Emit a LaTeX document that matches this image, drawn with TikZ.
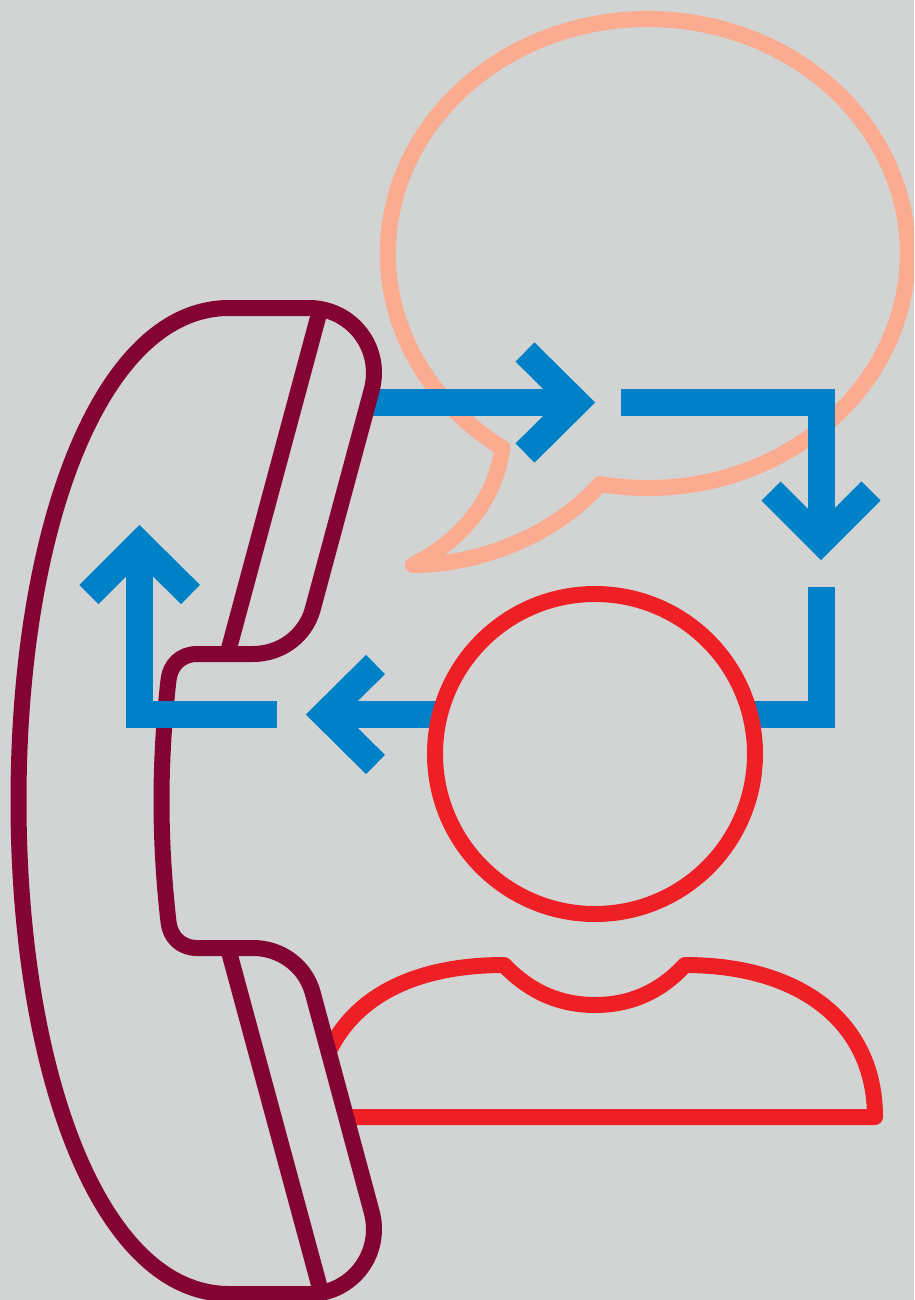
\documentclass[tikz,border=0pt]{standalone}
\definecolor{bgc}{HTML}{D2D4D3}
\definecolor{maroonc}{HTML}{830433}
\definecolor{bluec}{HTML}{0080C6}
\definecolor{redc}{HTML}{EF1F26}
\definecolor{salmonc}{HTML}{FBAB8F}
\tikzset{
  bubble/.style={draw=salmonc,line width=16pt,line join=round},
  person/.style={draw=redc,line width=16pt,line join=round},
  handset/.style={draw=maroonc,line width=16pt,line join=round},
  flow/.style={draw=bluec,line width=27pt,line join=miter,miter limit=10,line cap=butt}
}
\begin{document}
\begin{tikzpicture}[x=1pt,y=-1pt]
\useasboundingbox (0,0) rectangle (914,1300);
\clip (0,0) rectangle (914,1300);
\fill[bgc] (0,0) rectangle (914,1300);
% speech bubble
\draw[bubble] (600,484) arc (-100.6:236:260pt and 234.5pt)
  .. controls (495,500) and (462,540) .. (413,565)
  .. controls (480,565) and (555,535) .. (600,484) -- cycle;
% arrows beneath the handset and circle
\draw[flow] (368,402.5) -- (576,402.5);
\draw[flow] (525,352) -- (576,402.5) -- (525,453);
\draw[flow] (621,402.5) -- (821,402.5) -- (821,540);
\draw[flow] (771,491) -- (821,541) -- (871,491);
\draw[flow] (821,587) -- (821,714.5) -- (750,714.5);
\draw[flow] (440,714.5) -- (330,714.5);
\draw[flow] (375.5,664.5) -- (325,714.5) -- (375.5,764.5);
% person
\draw[person] (595,754) circle[radius=160pt];
\draw[person] (330,1049) .. controls (360,990) and (425,965) .. (504,965)
  .. controls (530,992) and (560,1005) .. (595,1005)
  .. controls (630,1005) and (660,992) .. (685,965)
  .. controls (800,965) and (875,1022) .. (875,1117)
  -- (350,1117);
% handset
\draw[handset] (229,308) -- (309,308)
  .. controls (345,308) and (374,337) .. (374,373)
  .. controls (374,379) and (373,385) .. (371.7,390)
  -- (312.5,610)
  .. controls (305,636) and (281,654) .. (253,654)
  -- (197,654)
  .. controls (181,654) and (170,665) .. (168.5,680)
  .. controls (164,720) and (161.5,760) .. (161.5,801)
  .. controls (161.5,842) and (164,882) .. (168.5,922)
  .. controls (170,937) and (181,948) .. (197,948)
  -- (253,948)
  .. controls (281,948) and (305,966) .. (312.5,992)
  -- (371.7,1212)
  .. controls (373,1217) and (374,1223) .. (374,1229)
  .. controls (374,1265) and (345,1294) .. (309,1294)
  -- (229,1294)
  .. controls (100,1294) and (18.5,1072) .. (18.5,801)
  .. controls (18.5,530) and (100,308) .. (229,308) -- cycle;
\draw[handset] (320,310) -- (227.5,654);
\draw[handset] (228,948) -- (321,1292);
% arrow over the handset
\draw[flow] (277,714.5) -- (139.5,714.5) -- (139.5,545);
\draw[flow] (89,594.5) -- (139.5,544) -- (190.5,594.5);
\end{tikzpicture}
\end{document}
